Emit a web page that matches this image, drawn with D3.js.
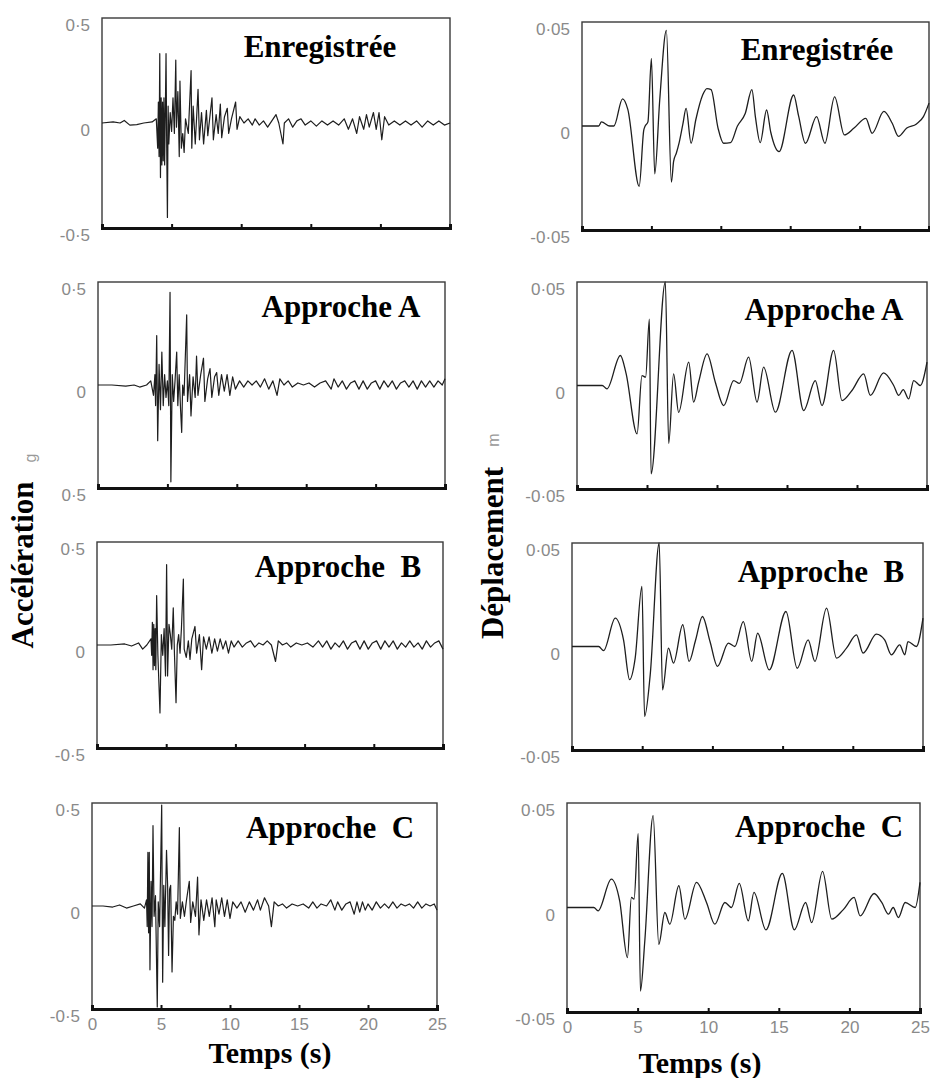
<!DOCTYPE html>
<html lang="fr">

<head>
    <meta charset="UTF-8">
    <script src="https://d3js.org/d3.v7.min.js"></script>
    <title>Accélération / Déplacement</title>
    <style>
        body { margin: 0; background: #fff; }
    </style>
</head>

<body>
    <div id="chart"></div>
    <script>
        const titles = ["Enregistrée", "Approche A", "Approche  B", "Approche  C"];
        const timeTicks = [0, 5, 10, 15, 20, 25];
        const innerTicks = [5, 10, 15, 20];
        const accTicks = [0.5, 0, -0.5];
        const accTickLabels = [["0·5", "0", "-0·5"], ["0·5", "0", "0·5"], ["0·5", "0", "-0·5"], ["0·5", "0", "-0·5"]];
        const dispTicks = [0.05, 0, -0.05];
        const dispTickLabels = ["0·05", "0", "-0·05"];

        const accRec = [
            [0, 0], [0.8, 0.005], [1.3, 0.0], [1.6, 0.012], [2.0, -0.01], [2.5, -0.008], [3.0, 0.0], [3.6, 0.005], [3.9, 0.02],
            [4.0, -0.12], [4.05, 0.1], [4.1, -0.16], [4.15, 0.33], [4.2, -0.26], [4.25, 0.12], [4.3, -0.2], [4.35, 0.1], [4.4, -0.18],
            [4.45, 0.12], [4.5, -0.2], [4.55, 0.05], [4.6, 0.33], [4.65, -0.12], [4.7, -0.45], [4.75, 0.08], [4.8, -0.1], [4.9, 0.05],
            [5.0, -0.04], [5.1, 0.12], [5.2, -0.05], [5.3, 0.3], [5.35, -0.02], [5.45, 0.15], [5.55, -0.16], [5.6, 0.2], [5.7, -0.12],
            [5.8, -0.05], [5.9, -0.14], [6.0, 0.02], [6.2, -0.05], [6.4, 0.25], [6.45, -0.12], [6.55, 0.08], [6.7, -0.1], [6.9, 0.16],
            [7.0, -0.08], [7.15, 0.05], [7.3, -0.1], [7.5, 0.06], [7.6, -0.06], [7.9, 0.12], [8.0, -0.08], [8.2, 0.04], [8.35, -0.05],
            [8.5, 0.09], [8.6, -0.07], [8.8, 0.03], [9.0, 0.07], [9.1, -0.05], [9.3, 0.02], [9.6, 0.1], [9.7, -0.03], [9.9, 0.03],
            [10.2, 0.0], [10.5, 0.02], [10.8, -0.01], [11.0, 0.02], [11.3, -0.01], [11.6, 0.01], [11.9, -0.02], [12.2, 0.01], [12.5, 0.04],
            [12.7, 0.0], [13.0, -0.1], [13.1, 0.0], [13.4, 0.02], [13.7, -0.02], [14.0, 0.01], [14.3, 0.02], [14.6, -0.01], [15.0, 0.01],
            [15.4, -0.015], [15.8, 0.01], [16.2, -0.01], [16.6, 0.01], [17.0, -0.01], [17.4, 0.02], [17.7, -0.03], [18.0, 0.02], [18.3, -0.05],
            [18.5, 0.03], [18.8, -0.03], [19.0, 0.04], [19.2, -0.02], [19.5, 0.05], [19.7, -0.03], [19.9, 0.05], [20.1, -0.08], [20.3, 0.03],
            [20.6, -0.01], [21.0, 0.01], [21.4, -0.01], [21.8, 0.01], [22.2, -0.01], [22.6, 0.01], [23.0, -0.02], [23.4, 0.01], [23.8, -0.01],
            [24.2, 0.01], [24.6, -0.01], [25, 0.0]
        ];

        const accA = [
            [0, 0], [1.0, 0.0], [2.0, -0.005], [2.6, 0.0], [3.0, -0.01], [3.5, 0.0], [3.8, 0.02], [4.0, -0.05], [4.1, 0.05], [4.15, -0.1],
            [4.23, 0.24], [4.3, -0.27], [4.4, 0.1], [4.5, -0.12], [4.6, 0.16], [4.7, -0.1], [4.8, 0.05], [4.9, -0.06], [5.0, 0.02], [5.1, -0.1],
            [5.19, 0.45], [5.25, -0.47], [5.35, 0.05], [5.45, -0.08], [5.55, 0.02], [5.67, 0.16], [5.75, -0.1], [5.85, 0.05], [5.95, -0.12],
            [6.03, -0.23], [6.1, 0.0], [6.2, -0.05], [6.39, 0.34], [6.45, -0.08], [6.6, 0.05], [6.7, -0.15], [6.85, 0.04], [7.0, -0.06],
            [7.1, 0.14], [7.2, -0.05], [7.4, 0.05], [7.6, 0.13], [7.7, -0.08], [7.9, 0.03], [8.07, 0.08], [8.2, -0.06], [8.4, 0.04],
            [8.55, 0.06], [8.7, -0.05], [8.9, 0.05], [9.1, -0.03], [9.3, 0.05], [9.5, -0.05], [9.7, 0.04], [9.9, -0.02], [10.2, 0.02],
            [10.5, -0.01], [10.8, 0.02], [11.1, 0.0], [11.4, 0.02], [11.7, -0.01], [12.0, 0.03], [12.3, -0.02], [12.6, 0.02], [12.9, -0.05],
            [13.1, 0.03], [13.4, 0.0], [13.7, 0.02], [14.0, -0.01], [14.4, 0.01], [14.8, 0.0], [15.2, 0.01], [15.6, -0.01], [16.0, 0.01],
            [16.4, 0.02], [16.8, -0.02], [17.0, 0.03], [17.3, -0.01], [17.6, 0.02], [17.9, -0.02], [18.2, 0.01], [18.5, 0.02], [18.8, -0.02],
            [19.1, 0.02], [19.4, -0.02], [19.7, 0.01], [20.0, 0.02], [20.3, -0.02], [20.6, 0.02], [20.9, -0.01], [21.2, 0.02], [21.5, -0.02],
            [21.8, 0.01], [22.1, 0.02], [22.4, -0.01], [22.7, 0.02], [23.0, -0.02], [23.3, 0.02], [23.6, -0.01], [23.9, 0.02], [24.2, -0.01],
            [24.5, 0.02], [24.8, 0.0], [25, 0.03]
        ];

        const accB = [
            [0, 0], [1.0, 0.0], [2.0, 0.005], [2.5, -0.005], [3.0, 0.01], [3.3, -0.02], [3.6, 0.0], [3.9, 0.03], [3.95, -0.05], [4.0, 0.11],
            [4.05, -0.12], [4.1, 0.1], [4.15, -0.1], [4.2, 0.08], [4.25, -0.12], [4.31, 0.24], [4.4, -0.05], [4.55, -0.33], [4.65, 0.05],
            [4.75, -0.05], [4.85, 0.08], [4.95, -0.15], [5.03, 0.39], [5.1, -0.15], [5.2, 0.1], [5.3, 0.05], [5.4, -0.02], [5.51, 0.18],
            [5.6, -0.05], [5.71, -0.28], [5.8, 0.0], [5.9, 0.05], [6.0, -0.04], [6.1, 0.08], [6.24, 0.32], [6.3, -0.02], [6.45, -0.06],
            [6.6, 0.02], [6.72, -0.07], [6.85, 0.03], [7.08, 0.09], [7.2, -0.04], [7.4, 0.05], [7.56, -0.12], [7.7, 0.04], [7.9, -0.02],
            [8.1, 0.04], [8.3, -0.04], [8.5, 0.03], [8.7, -0.03], [8.9, 0.03], [9.1, -0.02], [9.3, 0.02], [9.5, -0.04], [9.7, 0.02], [9.9, -0.01],
            [10.2, 0.02], [10.5, -0.01], [10.8, 0.01], [11.1, 0.02], [11.4, -0.01], [11.7, 0.01], [12.0, 0.0], [12.3, 0.02], [12.6, 0.0],
            [12.9, -0.08], [13.1, 0.02], [13.4, 0.0], [13.7, 0.01], [14.0, -0.01], [14.4, 0.01], [14.8, 0.0], [15.2, 0.01], [15.6, -0.01],
            [16.0, 0.02], [16.3, -0.01], [16.6, 0.02], [16.9, -0.02], [17.2, 0.01], [17.5, -0.01], [17.8, 0.02], [18.1, -0.02], [18.4, 0.01],
            [18.7, 0.02], [19.0, -0.02], [19.3, 0.02], [19.6, -0.02], [19.9, 0.01], [20.2, 0.02], [20.5, -0.02], [20.8, 0.02], [21.1, -0.01],
            [21.4, 0.02], [21.7, -0.02], [22.0, 0.01], [22.3, -0.01], [22.6, 0.02], [22.9, -0.01], [23.2, 0.01], [23.5, -0.02], [23.8, 0.02],
            [24.1, -0.01], [24.4, 0.01], [24.7, 0.02], [25, -0.02]
        ];

        const accC = [
            [0, 0], [0.8, 0.0], [1.5, -0.005], [2.0, 0.005], [2.5, -0.01], [3.0, 0.0], [3.5, 0.01], [3.8, -0.01], [3.95, 0.03], [4.0, -0.1],
            [4.05, 0.26], [4.1, -0.13], [4.15, 0.26], [4.2, -0.31], [4.28, 0.12], [4.35, -0.1], [4.42, 0.39], [4.5, -0.05], [4.6, 0.05],
            [4.73, -0.49], [4.8, 0.02], [4.9, -0.1], [5.05, 0.49], [5.12, -0.37], [5.2, 0.1], [5.28, -0.1], [5.4, 0.27], [5.48, 0.1],
            [5.55, -0.24], [5.62, 0.08], [5.7, 0.1], [5.8, -0.32], [5.9, -0.05], [6.0, -0.07], [6.1, 0.02], [6.2, -0.04], [6.33, 0.38],
            [6.4, -0.06], [6.55, 0.02], [6.7, -0.05], [6.85, 0.03], [7.05, 0.12], [7.15, -0.08], [7.3, 0.02], [7.5, -0.05], [7.65, 0.14],
            [7.75, -0.14], [7.9, 0.03], [8.1, -0.07], [8.3, 0.03], [8.5, -0.05], [8.7, 0.04], [8.9, -0.1], [9.0, 0.03], [9.2, -0.04],
            [9.4, 0.04], [9.6, -0.05], [9.8, 0.03], [10.0, -0.06], [10.2, 0.02], [10.5, -0.01], [10.8, 0.02], [11.1, -0.03], [11.4, 0.02],
            [11.7, -0.02], [12.0, 0.03], [12.2, -0.02], [12.5, 0.04], [12.8, 0.0], [13.0, -0.1], [13.2, 0.02], [13.5, 0.0], [13.8, 0.01],
            [14.1, -0.01], [14.5, 0.01], [14.9, 0.0], [15.3, 0.01], [15.7, -0.01], [16.0, 0.02], [16.3, -0.01], [16.6, 0.01], [17.0, 0.0],
            [17.3, 0.03], [17.6, -0.02], [17.8, 0.02], [18.1, -0.02], [18.4, 0.01], [18.7, 0.02], [19.0, -0.04], [19.2, 0.02], [19.4, -0.03],
            [19.6, 0.02], [19.8, -0.02], [20.0, 0.01], [20.3, -0.02], [20.6, 0.02], [20.9, -0.01], [21.2, 0.01], [21.5, -0.01], [21.8, 0.02],
            [22.1, -0.01], [22.4, 0.01], [22.7, 0.0], [23.0, 0.01], [23.3, -0.01], [23.6, 0.02], [23.9, -0.01], [24.2, 0.01], [24.5, 0.0],
            [24.8, 0.01], [25, -0.02]
        ];

        const dispRec = [
            [0, 0], [1.2, 0.0], [1.4, 0.002], [2.0, 0.0], [2.3, 0.0], [2.92, 0.013], [3.3, 0.008], [4.12, -0.029], [4.45, -0.002],
            [4.55, 0.0], [4.75, 0.002], [5.0, 0.0325], [5.24, -0.023], [5.6, 0.0125], [6.08, 0.046], [6.44, -0.027], [6.6, -0.017],
            [6.8, -0.013], [7.0, -0.008], [7.27, 0.001], [7.5, 0.0085], [7.86, -0.0083], [8.2, 0.003], [8.7, 0.015], [9.0, 0.018],
            [9.3, 0.0175], [9.8, -0.001], [10.2, -0.0083], [10.7, -0.008], [11.2, 0.0], [11.76, 0.006], [12.24, 0.0175], [12.5, 0.004],
            [12.84, -0.008], [13.3, 0.0077], [13.6, -0.003], [14.2, -0.0123], [15.25, 0.0149], [15.6, 0.005], [16.1, -0.0083],
            [16.9, 0.0045], [17.5, -0.0083], [18.2, 0.014], [18.9, -0.0043], [19.6, -0.001], [20.45, 0.0037], [20.9, -0.0035],
            [21.75, 0.007], [22.35, 0.0013], [22.8, -0.005], [23.4, -0.001], [24.1, 0.001], [24.6, 0.0045], [25, 0.011]
        ];

        const dispA = [
            [0, 0], [1.8, 0.0], [2.14, -0.0016], [3.1, 0.0145], [3.5, 0.006], [4.29, -0.0234], [4.64, 0.0048], [4.9, 0.004],
            [5.17, 0.032], [5.29, -0.0427], [6.31, 0.05], [6.55, -0.028], [6.9, 0.0056], [7.26, -0.013], [7.98, 0.0113], [8.33, -0.008],
            [8.7, 0.002], [9.29, 0.0153], [9.88, 0.0016], [10.48, -0.0097], [11.19, 0.0024], [11.6, 0.001], [12.26, 0.0137],
            [12.86, -0.008], [13.33, 0.0089], [14.17, -0.0129], [15.36, 0.017], [16.19, -0.0121], [17.02, 0.0024], [17.5, -0.0097],
            [18.33, 0.017], [18.93, -0.0073], [19.64, -0.0024], [20.48, 0.0056], [20.95, -0.0048], [21.9, 0.0061], [22.62, 0.0],
            [22.98, -0.0048], [23.3, -0.002], [23.69, -0.0065], [24.05, 0.0024], [24.52, 0.0], [25, 0.0113]
        ];

        const dispB = [
            [0, 0], [1.9, 0.0], [2.25, -0.002], [3.08, 0.0137], [3.67, 0.0032], [4.1, -0.016], [4.5, -0.0056], [4.98, 0.029],
            [5.17, -0.0338], [5.57, -0.0137], [6.21, 0.05], [6.45, -0.021], [6.87, -0.0008], [7.23, -0.008], [7.89, 0.0105],
            [8.34, -0.0072], [8.8, 0.003], [9.29, 0.0145], [9.83, 0.0024], [10.36, -0.0096], [11.14, 0.0016], [11.6, 0.0], [12.2, 0.012],
            [12.8, -0.0072], [13.22, 0.0064], [14.05, -0.0113], [15.24, 0.0169], [16.04, -0.0105], [16.82, 0.0032], [17.3, -0.0072],
            [18.13, 0.0185], [18.84, -0.0056], [19.55, -0.0008], [20.26, 0.0056], [20.73, -0.0032], [21.68, 0.006], [22.27, 0.0032],
            [22.75, -0.004], [23.34, 0.0008], [23.7, -0.004], [23.93, 0.0024], [24.53, 0.0], [25, 0.0137]
        ];

        const dispC = [
            [0, 0], [1.9, 0.0], [2.2, -0.0016], [3.14, 0.0136], [3.73, 0.0032], [4.28, -0.024], [4.56, 0.0048], [4.75, 0.004],
            [5.04, 0.0353], [5.2, -0.04], [5.51, -0.016], [6.1, 0.044], [6.5, -0.0176], [6.93, -0.0024], [7.28, -0.008], [7.92, 0.0104],
            [8.35, -0.0056], [9.17, 0.012], [9.88, 0.0024], [10.47, -0.008], [11.18, 0.0024], [11.65, 0.0], [12.2, 0.0115],
            [12.84, -0.0064], [13.24, 0.0072], [14.09, -0.0107], [15.25, 0.0163], [16.1, -0.0107], [16.9, 0.0024], [17.33, -0.0072],
            [18.1, 0.0173], [18.75, -0.0056], [19.57, -0.001], [20.33, 0.0048], [20.76, -0.004], [21.75, 0.0067], [22.29, 0.0024],
            [22.77, -0.0032], [23.1, 0.0], [23.47, -0.0048], [23.95, 0.0024], [24.66, 0.0], [25, 0.012]
        ];

        const accSeries = [accRec, accA, accB, accC];
        const dispSeries = [dispRec, dispA, dispB, dispC];

        // --- layout (the scan is slightly skewed, so each box has its own frame) ---
        const width = 930, height = 1078;
        const leftBoxes = [
            { x0: 102, x1: 450, y0: 18, y1: 228, tx: 320, ty: 57 },
            { x0: 98, x1: 445, y0: 282, y1: 488, tx: 341, ty: 317 },
            { x0: 97, x1: 443, y0: 542, y1: 748, tx: 338, ty: 577 },
            { x0: 92, x1: 437, y0: 803, y1: 1009, tx: 330, ty: 838 }
        ];
        const rightBoxes = [
            { x0: 582, x1: 929, y0: 22, y1: 230, tx: 817, ty: 60 },
            { x0: 577, x1: 927, y0: 282, y1: 489, tx: 824, ty: 320 },
            { x0: 572, x1: 923, y0: 543, y1: 750, tx: 821, ty: 582 },
            { x0: 567, x1: 920, y0: 803, y1: 1012, tx: 819, ty: 837 }
        ];

        const svg = d3.select("#chart").append("svg")
            .attr("width", width)
            .attr("height", height)
            .attr("viewBox", [0, 0, width, height])
            .style("background", "#fff");

        const serif = "'Liberation Serif', 'Times New Roman', serif";
        const sans = "'Liberation Sans', Arial, sans-serif";

        function drawPanel(box, data, yMax, tickVals, tickLabels, title, curve, lineW, isBottom) {
            const x = d3.scaleLinear([0, 25], [box.x0, box.x1]);
            const y = d3.scaleLinear([-yMax, yMax], [box.y1, box.y0]);
            const g = svg.append("g");

            // frame
            g.append("rect")
                .attr("x", box.x0).attr("y", box.y0)
                .attr("width", box.x1 - box.x0).attr("height", box.y1 - box.y0)
                .attr("fill", "none").attr("stroke", "#3a3a3a").attr("stroke-width", 1.4);

            // signal
            g.append("path")
                .datum(data)
                .attr("fill", "none")
                .attr("stroke", "#1e1e1e")
                .attr("stroke-width", lineW)
                .attr("stroke-linejoin", "round")
                .attr("d", d3.line().x(d => x(d[0])).y(d => y(d[1])).curve(curve));

            // heavy bottom axis with small inner ticks
            g.append("g")
                .attr("transform", `translate(0,${box.y1})`)
                .call(d3.axisBottom(x).tickValues(innerTicks).tickSize(-4).tickFormat(""))
                .call(a => a.select(".domain").attr("stroke", "#111").attr("stroke-width", 3))
                .call(a => a.selectAll(".tick line").attr("stroke", "#111").attr("stroke-width", 2));

            // y tick labels (grey, slightly below their value as in the scan)
            g.append("g")
                .attr("transform", `translate(${box.x0 - 9},0)`)
                .call(d3.axisLeft(y).tickValues(tickVals).tickSize(0).tickFormat((d, i) => tickLabels[i]))
                .call(a => a.select(".domain").remove())
                .call(a => a.selectAll("text")
                    .attr("dy", "0.75em")
                    .attr("font-family", sans)
                    .attr("font-size", 17)
                    .attr("fill", "#8a8a8a"));

            if (isBottom) {
                g.append("g")
                    .attr("transform", `translate(0,${box.y1 + 6})`)
                    .call(d3.axisBottom(x).tickValues(timeTicks).tickSize(0).tickFormat(d3.format("d")))
                    .call(a => a.select(".domain").remove())
                    .call(a => a.selectAll("text")
                        .attr("font-family", sans)
                        .attr("font-size", 17)
                        .attr("fill", "#8a8a8a"));
            }

            g.append("text")
                .attr("x", box.tx).attr("y", box.ty)
                .attr("text-anchor", "middle")
                .attr("font-family", serif)
                .attr("font-weight", "bold")
                .attr("font-size", 31)
                .attr("xml:space", "preserve")
                .style("white-space", "pre")
                .text(title);
        }

        leftBoxes.forEach((b, i) =>
            drawPanel(b, accSeries[i], 0.5, accTicks, accTickLabels[i], titles[i], d3.curveLinear, 1.2, i === 3));
        rightBoxes.forEach((b, i) =>
            drawPanel(b, dispSeries[i], 0.05, dispTicks, dispTickLabels, titles[i], d3.curveMonotoneX, 1.3, i === 3));

        // axis titles
        svg.append("text")
            .attr("transform", "translate(33,565) rotate(-90)")
            .attr("text-anchor", "middle")
            .attr("font-family", serif).attr("font-weight", "bold").attr("font-size", 31)
            .text("Accélération");
        svg.append("text")
            .attr("transform", "translate(36,458) rotate(-90)")
            .attr("text-anchor", "middle")
            .attr("font-family", sans).attr("font-size", 16).attr("fill", "#999")
            .text("g");
        svg.append("text")
            .attr("transform", "translate(503,553) rotate(-90)")
            .attr("text-anchor", "middle")
            .attr("font-family", serif).attr("font-weight", "bold").attr("font-size", 31)
            .text("Déplacement");
        svg.append("text")
            .attr("transform", "translate(499,440) rotate(-90)")
            .attr("text-anchor", "middle")
            .attr("font-family", sans).attr("font-size", 16).attr("fill", "#999")
            .text("m");
        svg.append("text")
            .attr("x", 270).attr("y", 1063)
            .attr("text-anchor", "middle")
            .attr("font-family", serif).attr("font-weight", "bold").attr("font-size", 30)
            .text("Temps (s)");
        svg.append("text")
            .attr("x", 700).attr("y", 1073)
            .attr("text-anchor", "middle")
            .attr("font-family", serif).attr("font-weight", "bold").attr("font-size", 30)
            .text("Temps (s)");
    </script>
</body>

</html>
